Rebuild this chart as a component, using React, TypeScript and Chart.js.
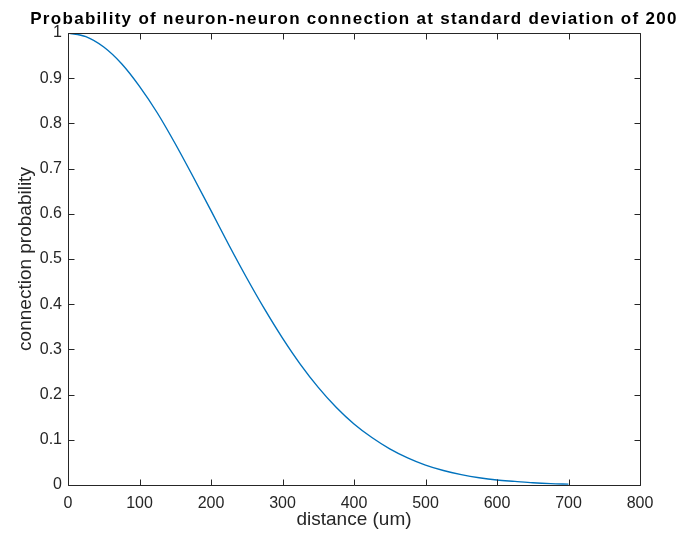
import React, { useEffect, useRef } from "react";
import { Chart, registerables } from "chart.js";

Chart.register(...registerables);

const titleText = "Probability of neuron-neuron connection at standard deviation of 200";
const xLabel = "distance (um)";
const yLabel = "connection probability";

const distance = [0, 25, 50, 75, 100, 125, 150, 175, 200, 225, 250, 275, 300, 325, 350, 375, 400, 425, 450, 475, 500, 525, 550, 575, 600, 625, 650, 675, 700];
const probability = [1.0, 0.992, 0.969, 0.932, 0.882, 0.823, 0.755, 0.682, 0.607, 0.531, 0.458, 0.389, 0.325, 0.267, 0.216, 0.172, 0.135, 0.105, 0.08, 0.06, 0.044, 0.032, 0.023, 0.016, 0.011, 0.008, 0.005, 0.003, 0.002];

const xTicks = [0, 100, 200, 300, 400, 500, 600, 700, 800];
const yTicks = [0, 0.1, 0.2, 0.3, 0.4, 0.5, 0.6, 0.7, 0.8, 0.9, 1];
const yTickLabels = ["0", "0.1", "0.2", "0.3", "0.4", "0.5", "0.6", "0.7", "0.8", "0.9", "1"];

const FONT = "'Liberation Sans', Arial, Helvetica, sans-serif";
const AXIS_COLOR = "#262626";
const TICK_LEN = 6;

const boxPlugin = {
  id: "matlabBox",
  afterDatasetsDraw(chart: any) {
    const { ctx, chartArea } = chart;
    const { left, right, top, bottom } = chartArea;
    const xs = chart.scales.x;
    const ys = chart.scales.y;
    ctx.save();
    ctx.strokeStyle = AXIS_COLOR;
    ctx.lineWidth = 1;
    const L = Math.round(left) + 0.5;
    const R = Math.round(right) + 0.5;
    const T = Math.round(top) + 0.5;
    const B = Math.round(bottom) + 0.5;
    ctx.beginPath();
    ctx.rect(L, T, R - L, B - T);
    ctx.stroke();
    ctx.beginPath();
    xTicks.forEach((v) => {
      const px = Math.round(xs.getPixelForValue(v)) + 0.5;
      ctx.moveTo(px, B);
      ctx.lineTo(px, B - TICK_LEN);
      ctx.moveTo(px, T);
      ctx.lineTo(px, T + TICK_LEN);
    });
    yTicks.forEach((v) => {
      const py = Math.round(ys.getPixelForValue(v)) + 0.5;
      ctx.moveTo(L, py);
      ctx.lineTo(L + TICK_LEN, py);
      ctx.moveTo(R, py);
      ctx.lineTo(R - TICK_LEN, py);
    });
    ctx.stroke();
    ctx.restore();
  },
  afterDraw(chart: any) {
    const { ctx, chartArea } = chart;
    ctx.save();
    ctx.fillStyle = "#000000";
    ctx.font = `bold 17px ${FONT}`;
    (ctx as any).letterSpacing = "1.3px";
    ctx.textAlign = "center";
    ctx.textBaseline = "alphabetic";
    ctx.fillText(titleText, (chartArea.left + chartArea.right) / 2, 24);
    ctx.restore();
  },
};

export default function App() {
  const ref = useRef<HTMLCanvasElement | null>(null);
  useEffect(() => {
    if (!ref.current) return;
    const chart = new Chart(ref.current, {
      type: "line",
      data: {
        datasets: [
          {
            data: distance.map((d, i) => ({ x: d, y: probability[i] })),
            borderColor: "#0072BD",
            borderWidth: 1.4,
            pointRadius: 0,
            fill: false,
            cubicInterpolationMode: "monotone",
          },
        ],
      },
      options: {
        responsive: false,
        animation: false,
        devicePixelRatio: 1,
        layout: { padding: { top: 33, right: 38, left: 0, bottom: 0 } },
        plugins: {
          legend: { display: false },
          tooltip: { enabled: false },
          title: { display: false },
        },
        scales: {
          x: {
            type: "linear",
            min: 0,
            max: 800,
            afterBuildTicks: (s: any) => {
              s.ticks = xTicks.map((v) => ({ value: v }));
            },
            afterFit: (s: any) => {
              s.height = 58;
            },
            grid: { display: false, drawTicks: false },
            border: { display: false },
            ticks: {
              color: AXIS_COLOR,
              font: { family: FONT, size: 16 },
              padding: 9,
              maxRotation: 0,
              autoSkip: false,
              callback: (v: any) => String(v),
            },
            title: {
              display: true,
              text: xLabel,
              color: AXIS_COLOR,
              font: { family: FONT, size: 19 },
              padding: { top: 0, bottom: 11.5 },
            },
          },
          y: {
            type: "linear",
            min: 0,
            max: 1,
            afterBuildTicks: (s: any) => {
              s.ticks = yTicks.map((v) => ({ value: v }));
            },
            afterFit: (s: any) => {
              s.width = 68;
            },
            grid: { display: false, drawTicks: false },
            border: { display: false },
            ticks: {
              color: AXIS_COLOR,
              font: { family: FONT, size: 16 },
              padding: 6,
              autoSkip: false,
              callback: (v: any) => {
                const i = yTicks.findIndex((t) => Math.abs(t - v) < 1e-9);
                return i >= 0 ? yTickLabels[i] : String(v);
              },
            },
            title: {
              display: true,
              text: yLabel,
              color: AXIS_COLOR,
              font: { family: FONT, size: 19 },
              padding: { top: 14, bottom: 0 },
            },
          },
        },
      },
      plugins: [boxPlugin],
    } as any);
    return () => chart.destroy();
  }, []);
  return (
    <div style={{ position: "absolute", left: 0, top: 0, width: 678, height: 543, background: "#ffffff" }}>
      <canvas ref={ref} width={678} height={543} style={{ display: "block" }} />
    </div>
  );
}
